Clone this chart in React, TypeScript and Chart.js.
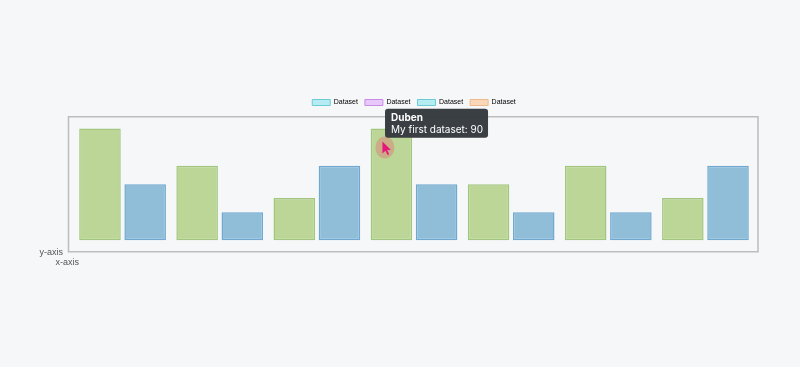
import React, { useEffect, useRef } from "react";
import { Chart, registerables, Tooltip } from "chart.js";

Chart.register(...registerables);

const labels = ["Leden", "Únor", "Březen", "Duben", "Květen", "Červen", "Červenec"];
const firstValues = [90, 60, 34, 90, 45, 60, 34];
const secondValues = [45, 22.5, 60, 45, 22.5, 22.5, 60];
const datasetNames = ["My first dataset", "My second dataset"];
const legendTexts = ["Dataset", "Dataset", "Dataset", "Dataset"];
const legendFills = ["#b5ecf1", "#e8c8fa", "#b5ecf1", "#fbd7b9"];
const legendStrokes = ["#6ccbd8", "#c98ae8", "#6ccbd8", "#f0b98c"];
const axisTitles = ["y-axis", "x-axis"];
const activeIndex = 3;

const FONT = "'Liberation Sans', Arial, sans-serif";
const TIP_FONT = "Inter, 'Liberation Sans', sans-serif";

(Tooltip as any).positioners.pinned = function (items: any[]) {
  if (!items.length) return false;
  const el = items[0].element;
  return { x: el.x - 3.4, y: el.y - 19.7 };
};

const decor = {
  id: "decor",
  beforeDatasetsDraw(chart: any) {
    const { ctx, chartArea: a } = chart;
    ctx.save();
    ctx.strokeStyle = "#bdbdbd";
    ctx.lineWidth = 1.5;
    ctx.strokeRect(a.left - 5.5, a.top + 0.75, a.right - a.left + 9.5, a.bottom - a.top);
    ctx.fillStyle = "#555";
    ctx.font = `9px ${FONT}`;
    ctx.textBaseline = "middle";
    ctx.textAlign = "right";
    ctx.fillText(axisTitles[0], a.left - 11, a.bottom + 2);
    ctx.fillText(axisTitles[1], a.left + 5, a.bottom + 11.5);
    ctx.restore();
  },
  afterDatasetsDraw(chart: any) {
    const { ctx } = chart;
    const el = chart.getDatasetMeta(0).data[activeIndex];
    if (!el) return;
    const cx = el.x - 6.5;
    const cy = el.y + 19;
    ctx.save();
    ctx.fillStyle = "rgba(215,140,120,0.55)";
    ctx.beginPath();
    ctx.ellipse(cx, cy, 9.5, 11, 0, 0, Math.PI * 2);
    ctx.fill();
    const tx = el.x - 9;
    const ty = el.y + 13;
    ctx.fillStyle = "#e8177c";
    ctx.beginPath();
    ctx.moveTo(tx, ty);
    ctx.lineTo(tx, ty + 12);
    ctx.lineTo(tx + 3, ty + 9.2);
    ctx.lineTo(tx + 5.2, ty + 13.5);
    ctx.lineTo(tx + 6.8, ty + 12.8);
    ctx.lineTo(tx + 4.8, ty + 8.6);
    ctx.lineTo(tx + 8.5, ty + 8.6);
    ctx.closePath();
    ctx.fill();
    ctx.restore();
  },
};

export default function App() {
  const ref = useRef<HTMLCanvasElement | null>(null);

  useEffect(() => {
    if (!ref.current) return;
    Chart.defaults.font.family = FONT;
    const chart = new Chart(ref.current, {
      type: "bar",
      data: {
        labels,
        datasets: [
          {
            label: datasetNames[0],
            data: firstValues,
            backgroundColor: "#bbd697",
            borderColor: "#a3c67f",
            borderWidth: 1.5,
            borderSkipped: false,
          },
          {
            label: datasetNames[1],
            data: secondValues,
            backgroundColor: "#90bed9",
            borderColor: "#6fa8d0",
            borderWidth: 1.5,
            borderSkipped: false,
          },
        ],
      },
      options: {
        responsive: false,
        animation: false,
        devicePixelRatio: 1,
        layout: { padding: { left: 74, right: 46, top: 92, bottom: 116 } },
        datasets: { bar: { categoryPercentage: 0.93, barPercentage: 0.92 } } as any,
        scales: {
          x: { display: false },
          y: { display: false, min: -8.6, max: 100 },
        },
        plugins: {
          legend: {
            position: "top",
            labels: {
              boxWidth: 18,
              boxHeight: 6,
              padding: 7,
              color: "#555",
              font: { size: 7, family: FONT },
              generateLabels: () =>
                legendTexts.map((t, i) => ({
                  text: t,
                  fillStyle: legendFills[i],
                  strokeStyle: legendStrokes[i],
                  lineWidth: 1,
                  hidden: false,
                  datasetIndex: i,
                })),
            },
          },
          tooltip: {
            enabled: true,
            position: "pinned" as any,
            xAlign: "left",
            yAlign: "top",
            caretSize: 0,
            caretPadding: 0,
            cornerRadius: 3,
            displayColors: false,
            backgroundColor: "rgba(52,57,62,0.97)",
            titleColor: "#ffffff",
            bodyColor: "#ffffff",
            titleFont: { size: 10, weight: "bold", family: TIP_FONT, lineHeight: 1.2 },
            bodyFont: { size: 10, family: TIP_FONT, lineHeight: 1.2 },
            titleMarginBottom: 0,
            padding: { top: 3, bottom: 2, left: 6, right: 5 },
          },
        },
      },
      plugins: [decor],
    });
    chart.tooltip?.setActiveElements([{ datasetIndex: 0, index: activeIndex }], { x: 0, y: 0 });
    chart.update();
    return () => chart.destroy();
  }, []);

  return (
    <div
      style={{
        position: "fixed",
        left: 0,
        top: 0,
        width: 800,
        height: 367,
        background: "#f6f7f9",
      }}
    >
      <canvas ref={ref} width={800} height={367} style={{ width: 800, height: 367, display: "block" }} />
    </div>
  );
}
